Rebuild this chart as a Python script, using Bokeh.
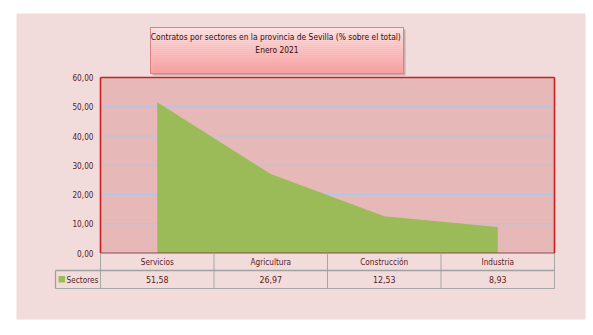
from bokeh.plotting import figure
from bokeh.models import Range1d, ColumnDataSource
from bokeh.core.properties import value
from bokeh.embed import file_html
from bokeh.resources import INLINE

# ---- data ----
categories = ["Servicios", "Agricultura", "Construcción", "Industria"]
sectores = [51.58, 26.97, 12.53, 8.93]
series_name = "Sectores"
y_ticks = [0, 10, 20, 30, 40, 50, 60]
title_lines = ["Contratos  por sectores en la provincia de Sevilla (% sobre el total)", "Enero 2021"]

W, H = 593, 335
# layout (pixels)
PL, PR, PT, PB = 100, 554, 77, 252.5       # plot area
n = len(categories)
col_w = (PR - PL) / n
y_max = max(y_ticks)
py_per_unit = (PB - PT) / y_max

def X(px):
    return (px - PL) / col_w

def Y(py):
    return (PB - py) / py_per_unit

FONT = value("DejaVu Sans Condensed")
TXT = "#581c1c"
FS = "8.2px"

p = figure(width=W, height=H, output_backend="svg", toolbar_location=None,
           x_range=Range1d(X(0), X(W)), y_range=Range1d(Y(H), Y(0)),
           min_border=0, min_border_left=0, min_border_right=0,
           min_border_top=0, min_border_bottom=0)
p.axis.visible = False
p.grid.visible = False
p.outline_line_color = None
p.background_fill_color = "white"
p.border_fill_color = "white"

# outer panel
p.quad(left=[X(16)], right=[X(585)], top=[Y(13)], bottom=[Y(319)],
       fill_color="#f2dcdb", line_color=None)

# title box: shadow + gradient strips
p.quad(left=[X(152)], right=[X(405)], top=[Y(29)], bottom=[Y(75)],
       fill_color="#b89494", fill_alpha=0.7, line_color=None)
tb_l, tb_r, tb_t, tb_b = 150, 403, 27, 73
nstrip = 23
c0 = (253, 226, 226)
c1 = (248, 160, 160)
lefts, rights, tops, bottoms, cols = [], [], [], [], []
for i in range(nstrip):
    f = i / (nstrip - 1)
    r = int(c0[0] + (c1[0] - c0[0]) * f)
    g = int(c0[1] + (c1[1] - c0[1]) * f)
    b = int(c0[2] + (c1[2] - c0[2]) * f)
    y0 = tb_t + (tb_b - tb_t) * i / nstrip
    y1 = tb_t + (tb_b - tb_t) * (i + 1) / nstrip
    lefts.append(X(tb_l)); rights.append(X(tb_r))
    tops.append(Y(y0)); bottoms.append(Y(y1 + 0.3))
    cols.append("#%02x%02x%02x" % (r, g, b))
p.quad(left=lefts, right=rights, top=tops, bottom=bottoms, fill_color=cols, line_color=None)
p.quad(left=[X(tb_l)], right=[X(tb_r)], top=[Y(tb_t)], bottom=[Y(tb_b)],
       fill_color=None, line_color="#e08080", line_width=1)
p.text(x=[X((tb_l + tb_r) / 2)] * 2, y=[Y(36.5), Y(49.5)], text=title_lines,
       text_font=FONT, text_font_size="8.4px", text_color="#3a0a0a",
       text_align="center", text_baseline="middle")

# plot area
p.quad(left=[0], right=[n], top=[y_max], bottom=[0],
       fill_color="#e6b8b7", line_color=None)
# gridlines
grid = [t for t in y_ticks if 0 < t < y_max]
p.segment(x0=[0] * len(grid), x1=[n] * len(grid), y0=grid, y1=grid,
          line_color="#a9c8ea", line_width=1)

# area series
src = ColumnDataSource(dict(x=[i + 0.5 for i in range(n)], y=sectores, base=[0] * n))
p.varea(x="x", y1="base", y2="y", source=src, fill_color="#9bbb59")

# plot border
p.segment(x0=[0, n, 0], x1=[n, n, 0], y0=[y_max, y_max, y_max], y1=[y_max, 0, 0],
          line_color="#c82020", line_width=1.6)
p.segment(x0=[0], x1=[n], y0=[0], y1=[0], line_color="#8c4a4a", line_width=1.2)

# y tick labels
p.text(x=[X(93)] * len(y_ticks), y=y_ticks,
       text=[("%.2f" % t).replace(".", ",") for t in y_ticks],
       text_font=FONT, text_font_size=FS, text_color=TXT,
       text_align="right", text_baseline="middle")

# data table
r1_b, r2_b = 270, 288
leg_l = 55
vx = list(range(n + 1))
p.segment(x0=vx, x1=vx, y0=[0] * len(vx), y1=[Y(r2_b)] * len(vx),
          line_color="#a6a6a6", line_width=1)
p.segment(x0=[X(leg_l), X(leg_l)], x1=[n, X(leg_l)], y0=[Y(r1_b), Y(r1_b)], y1=[Y(r1_b), Y(r2_b)],
          line_color="#a0a0a0", line_width=1.3)
p.segment(x0=[X(leg_l)], x1=[n], y0=[Y(r2_b)], y1=[Y(r2_b)],
          line_color="#a6a6a6", line_width=1)

p.text(x=[i + 0.5 for i in range(n)], y=[Y((PB + r1_b) / 2)] * n, text=categories,
       text_font=FONT, text_font_size=FS, text_color=TXT,
       text_align="center", text_baseline="middle")
p.text(x=[i + 0.5 for i in range(n)], y=[Y((r1_b + r2_b) / 2)] * n,
       text=[("%.2f" % v).replace(".", ",") for v in sectores],
       text_font=FONT, text_font_size="8.8px", text_color=TXT,
       text_align="center", text_baseline="middle")
# legend key
p.quad(left=[X(58)], right=[X(64.5)], top=[Y(275.5)], bottom=[Y(282)],
       fill_color="#9bbb59", line_color=None)
p.text(x=[X(66)], y=[Y((r1_b + r2_b) / 2)], text=[series_name],
       text_font=FONT, text_font_size=FS, text_color=TXT,
       text_align="left", text_baseline="middle")

open("out.html", "w").write(file_html(p, INLINE))
